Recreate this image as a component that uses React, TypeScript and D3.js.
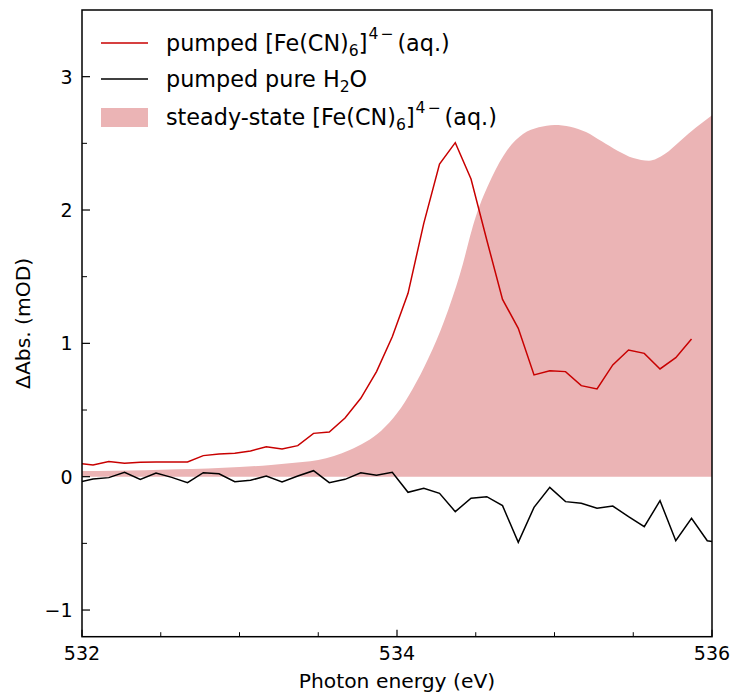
import React from "react";
import * as d3 from "d3";

const pumpedX = [531.97, 532.07, 532.17, 532.27, 532.37, 532.47, 532.57, 532.67, 532.77, 532.87, 532.97, 533.07, 533.17, 533.27, 533.37, 533.47, 533.57, 533.67, 533.77, 533.87, 533.97, 534.07, 534.17, 534.27, 534.37, 534.47, 534.57, 534.67, 534.77, 534.87, 534.97, 535.07, 535.17, 535.27, 535.37, 535.47, 535.57, 535.67, 535.77, 535.87];
const pumpedFe = [0.1, 0.088, 0.113, 0.1, 0.108, 0.11, 0.11, 0.11, 0.158, 0.17, 0.175, 0.193, 0.225, 0.208, 0.233, 0.325, 0.335, 0.44, 0.588, 0.788, 1.05, 1.375, 1.9, 2.345, 2.505, 2.233, 1.775, 1.33, 1.113, 0.763, 0.795, 0.788, 0.683, 0.658, 0.838, 0.95, 0.925, 0.808, 0.893, 1.033];

const waterX = [531.97, 532.07, 532.17, 532.27, 532.37, 532.47, 532.57, 532.67, 532.77, 532.87, 532.97, 533.07, 533.17, 533.27, 533.37, 533.47, 533.57, 533.67, 533.77, 533.87, 533.97, 534.07, 534.17, 534.27, 534.37, 534.47, 534.57, 534.67, 534.77, 534.87, 534.97, 535.07, 535.17, 535.27, 535.37, 535.47, 535.57, 535.67, 535.77, 535.87, 535.97, 536.07];
const pumpedWater = [-0.045, -0.017, -0.007, 0.033, -0.02, 0.028, -0.005, -0.045, 0.03, 0.022, -0.037, -0.027, 0.005, -0.04, 0.005, 0.045, -0.045, -0.02, 0.03, 0.01, 0.033, -0.117, -0.087, -0.125, -0.262, -0.162, -0.15, -0.217, -0.492, -0.23, -0.08, -0.187, -0.2, -0.237, -0.22, -0.3, -0.375, -0.18, -0.48, -0.312, -0.48, -0.5];

const steadyX = [532.0, 532.2, 532.4, 532.6, 532.8, 533.0, 533.2, 533.4, 533.5, 533.6, 533.7, 533.8, 533.9, 534.0, 534.1, 534.2, 534.3, 534.4, 534.5, 534.6, 534.7, 534.8, 534.9, 535.0, 535.1, 535.2, 535.3, 535.4, 535.5, 535.6, 535.7, 535.8, 535.9, 536.0];
const steadyFe = [0.042, 0.045, 0.048, 0.055, 0.062, 0.072, 0.088, 0.11, 0.125, 0.155, 0.2, 0.26, 0.345, 0.475, 0.66, 0.89, 1.17, 1.52, 1.95, 2.24, 2.45, 2.57, 2.62, 2.638, 2.625, 2.585, 2.515, 2.445, 2.39, 2.37, 2.42, 2.52, 2.62, 2.71];

const xMajorTicks = [532, 534, 536];
const xMinorTicks = [532.5, 533, 533.5, 534.5, 535, 535.5];
const yMajorTicks = [-1, 0, 1, 2, 3];
const yMinorTicks = [-0.5, 0.5, 1.5, 2.5];

const FONT = "DejaVu Sans, sans-serif";
const RED = "#c80000";
const FILL = "#ebb4b5";

export default function App() {
  const left = 82, right = 712, top = 10, bottom = 636.7;
  const x = d3.scaleLinear().domain([532, 536]).range([left, right]);
  const y = d3.scaleLinear().domain([-1.2, 3.5]).range([bottom, top]);

  const area = d3
    .area<number>()
    .x((_, i) => x(steadyX[i]))
    .y0(() => y(0))
    .y1((d) => y(d))
    .curve(d3.curveMonotoneX);
  const lineFe = d3
    .line<number>()
    .x((_, i) => x(pumpedX[i]))
    .y((d) => y(d));
  const lineW = d3
    .line<number>()
    .x((_, i) => x(waterX[i]))
    .y((d) => y(d));

  const fs = 19;
  const afs = 20.3;
  const lfs = 22.3;
  const sub = 15.6;

  const feLabel = (prefix: string) => (
    <>
      {prefix}[Fe(CN)<tspan fontSize={sub} dy={4.5}>6</tspan>
      <tspan dy={-4.5}>]</tspan>
      <tspan fontSize={sub} dy={-12} dx={1}>4</tspan>
      <tspan fontSize={sub} dx={2}>−</tspan>
      <tspan dy={12} dx={4}>(aq.)</tspan>
    </>
  );

  return (
    <svg width={733} height={695} style={{ position: "absolute", left: 0, top: 0 }} fontFamily={FONT}>
      <defs>
        <clipPath id="plotclip">
          <rect x={left} y={top} width={right - left} height={bottom - top} />
        </clipPath>
      </defs>
      <rect x={0} y={0} width={733} height={695} fill="white" />
      <g clipPath="url(#plotclip)">
        <path d={area(steadyFe) || ""} fill={FILL} />
        <path d={lineFe(pumpedFe) || ""} fill="none" stroke={RED} strokeWidth={1.5} />
        <path d={lineW(pumpedWater) || ""} fill="none" stroke="black" strokeWidth={1.5} />
      </g>
      {xMajorTicks.map((t) => (
        <g key={"xM" + t}>
          <line x1={x(t)} x2={x(t)} y1={bottom} y2={bottom - 7} stroke="black" strokeWidth={1.2} />
          <text x={x(t)} y={660} textAnchor="middle" fontSize={fs}>{t}</text>
        </g>
      ))}
      {xMinorTicks.map((t) => (
        <line key={"xm" + t} x1={x(t)} x2={x(t)} y1={bottom} y2={bottom - 4.5} stroke="black" strokeWidth={1} />
      ))}
      {yMajorTicks.map((t) => (
        <g key={"yM" + t}>
          <line x1={left} x2={left + 8} y1={y(t)} y2={y(t)} stroke="black" strokeWidth={1.2} />
          <text x={72.5} y={y(t)} dy="0.36em" textAnchor="end" fontSize={fs}>
            {t < 0 ? "\u2212" + Math.abs(t) : String(t)}
          </text>
        </g>
      ))}
      {yMinorTicks.map((t) => (
        <line key={"ym" + t} x1={left} x2={left + 5} y1={y(t)} y2={y(t)} stroke="black" strokeWidth={1} />
      ))}
      <rect x={left} y={top} width={right - left} height={bottom - top} fill="none" stroke="black" strokeWidth={1.5} />
      <text x={(left + right) / 2} y={688} textAnchor="middle" fontSize={afs}>Photon energy (eV)</text>
      <text transform={`translate(30,${(top + bottom) / 2}) rotate(-90)`} textAnchor="middle" fontSize={afs}>ΔAbs. (mOD)</text>
      <line x1={101} x2={148} y1={43} y2={43} stroke={RED} strokeWidth={1.5} />
      <line x1={101} x2={148} y1={79} y2={79} stroke="black" strokeWidth={1.5} />
      <rect x={101} y={108} width={47} height={19} fill={FILL} />
      <text x={166} y={51} fontSize={lfs}>{feLabel("pumped ")}</text>
      <text x={166} y={87} fontSize={lfs}>
        pumped pure H<tspan fontSize={sub} dy={4.5}>2</tspan>
        <tspan dy={-4.5}>O</tspan>
      </text>
      <text x={166} y={125} fontSize={lfs}>{feLabel("steady-state ")}</text>
    </svg>
  );
}
